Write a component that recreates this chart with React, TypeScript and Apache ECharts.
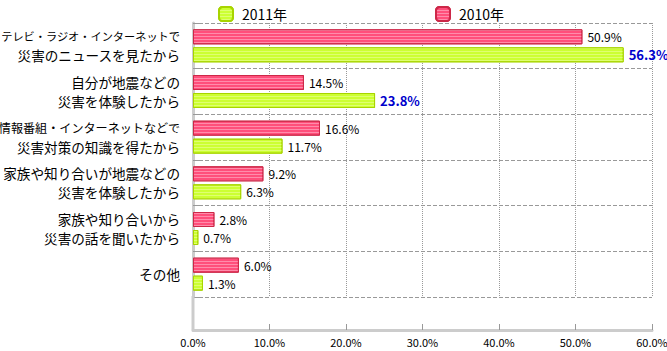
import React, { useEffect, useRef } from "react";
import * as echarts from "echarts";

const categories = [
  "テレビ・ラジオ・インターネットで\n災害のニュースを見たから",
  "自分が地震などの\n災害を体験したから",
  "情報番組・インターネットなどで\n災害対策の知識を得たから",
  "家族や知り合いが地震などの\n災害を体験したから",
  "家族や知り合いから\n災害の話を聞いたから",
  "その他",
];
const values2010 = [50.9, 14.5, 16.6, 9.2, 2.8, 6.0];
const values2011 = [56.3, 23.8, 11.7, 6.3, 0.7, 1.3];
const xTicks = [0, 10, 20, 30, 40, 50, 60];
const seriesNames = ["2010年", "2011年"];

const FONT = "Noto Sans CJK JP";

export default function App() {
  const ref = useRef<HTMLDivElement>(null);
  useEffect(() => {
    if (!ref.current) return;
    const chart = echarts.init(ref.current, null, { renderer: "svg" });
    const pct = (v: number) => v.toFixed(1) + "%";
    const redStyle = {
      color: "#ff4f7b",
      borderColor: "#cc2848",
      borderWidth: 1,
      decal: {
        symbol: "rect",
        symbolSize: 1,
        dashArrayX: [1, 0],
        dashArrayY: [1, 2],
        color: "rgba(255,150,180,0.85)",
        rotation: 0,
      },
    };
    const greenStyle = {
      color: "#ccff33",
      borderColor: "#a8d400",
      borderWidth: 1,
      decal: {
        symbol: "rect",
        symbolSize: 1,
        dashArrayX: [1, 0],
        dashArrayY: [1, 2],
        color: "rgba(225,255,120,0.9)",
        rotation: 0,
      },
    };
    const data2011 = values2011.map((v, i) =>
      v > values2010[i]
        ? {
            value: v,
            label: { color: "#0000cc", fontWeight: "bold", fontSize: 13 },
          }
        : { value: v }
    );
    chart.setOption({
      animation: false,
      textStyle: { fontFamily: FONT },
      legend: [
        {
          data: [seriesNames[1]],
          left: 213,
          top: 1,
          itemWidth: 14,
          itemHeight: 14,
          textStyle: { fontSize: 14, color: "#000", padding: [0, 0, 0, 4] },
        },
        {
          data: [seriesNames[0]],
          left: 430,
          top: 1,
          itemWidth: 14,
          itemHeight: 14,
          textStyle: { fontSize: 14, color: "#000", padding: [0, 0, 0, 4] },
        },
      ],
      grid: {
        left: 193,
        right: 15,
        top: 23,
        bottom: 54,
        containLabel: false,
        outerBoundsMode: "none",
      },
      xAxis: {
        type: "value",
        min: 0,
        max: 60,
        interval: 10,
        offset: 33,
        axisLine: { show: true, lineStyle: { color: "#cccccc", width: 3 } },
        axisTick: { show: true, inside: true, length: 6, lineStyle: { color: "#999" } },
        axisLabel: {
          color: "#000",
          fontSize: 11,
          margin: 6,
          formatter: (v: number) => (xTicks.includes(v) ? pct(v) : ""),
        },
        splitLine: { show: true, lineStyle: { color: "#999", type: "dotted" } },
      },
      yAxis: {
        type: "category",
        inverse: true,
        data: categories,
        axisLine: { show: true, lineStyle: { color: "#cccccc", width: 3 } },
        axisTick: { show: true, inside: true, length: 9, lineStyle: { color: "#999" } },
        splitLine: { show: true, lineStyle: { color: "#999", type: "dashed" } },
        axisLabel: {
          color: "#000",
          margin: 13,
          fontSize: 13,
          lineHeight: 19,
          align: "right",
          formatter: (v: string) =>
            v
              .split("\n")
              .map((l) => (l.length >= 16 ? `{c|${l}}` : l.length >= 15 ? `{b|${l}}` : `{a|${l}}`))
              .join("\n"),
          rich: {
            a: { fontSize: 13.6, lineHeight: 19 },
            b: { fontSize: 12.1, lineHeight: 19 },
            c: { fontSize: 11.2, lineHeight: 19 },
          },
        },
      },
      graphic: [
        {
          type: "line",
          shape: { x1: 193, y1: 296, x2: 193, y2: 330 },
          style: { stroke: "#cccccc", lineWidth: 3 },
          z: 10,
        },
      ],
      series: [
        {
          name: seriesNames[0],
          type: "bar",
          data: values2010,
          barWidth: 15,
          barGap: "20%",
          itemStyle: redStyle,
          label: {
            show: true,
            position: "right",
            distance: 5,
            fontSize: 12,
            color: "#000",
            formatter: (p: any) => pct(p.value),
          },
        },
        {
          name: seriesNames[1],
          type: "bar",
          data: data2011,
          barWidth: 15,
          barGap: "20%",
          itemStyle: greenStyle,
          label: {
            show: true,
            position: "right",
            distance: 5,
            fontSize: 12,
            color: "#000",
            formatter: (p: any) => pct(p.value),
          },
        },
      ],
    });
    return () => chart.dispose();
  }, []);
  return (
    <div
      ref={ref}
      style={{ position: "fixed", left: 0, top: 0, width: 667, height: 351, background: "#fff" }}
    />
  );
}
